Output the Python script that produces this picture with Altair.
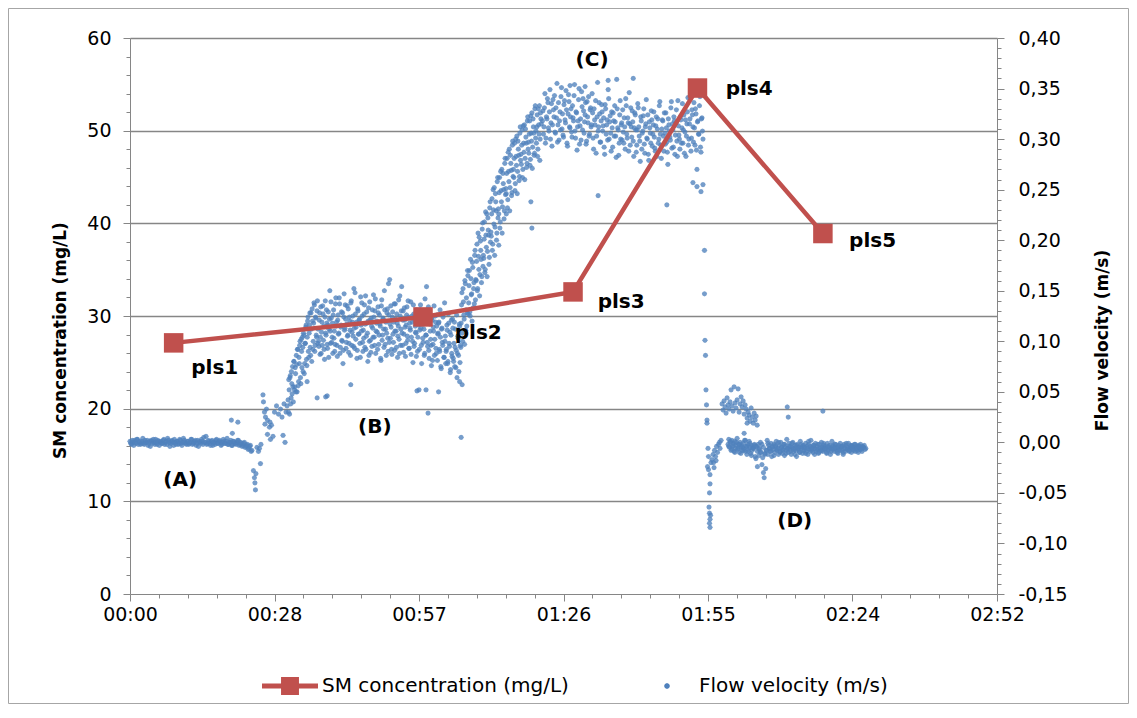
import altair as alt
import pandas as pd

SM_LABEL = "SM concentration (mg/L)"
FLOW_LABEL = "Flow velocity (m/s)"
RED = "#C0504D"
BLUE = "#4F81BD"
GRID = "#868686"
FONT = "DejaVu Sans"

# ---------------- SM concentration samples (time in minutes, mg/L) ----------------
sm_time = [8.7, 58.4, 88.3, 113.1, 138.1]
sm_conc = [27.1, 29.9, 32.6, 54.6, 38.9]
sm_names = ["pls1", "pls2", "pls3", "pls4", "pls5"]
sm_label_time = [16.9, 69.4, 97.9, 123.4, 148.0]
sm_label_conc = [24.4, 28.2, 31.5, 54.5, 38.1]

phase_names = ["(A)", "(B)", "(C)", "(D)"]
phase_time = [10.0, 48.8, 92.1, 132.5]
phase_conc = [12.3, 18.0, 57.6, 7.9]

# ---------------- Flow velocity logger (mm/s), regular logging intervals ----------------
flow_A_start, flow_A_step = 0.0, 0.3
flow_A = [1, -2, 0, 2, -1, 3, 0, -2, 1, -1,
          2, 0, -3, 1, 2, -1, 0, 3, -2, 1,
          0, -1, 2, -2, 1, 4, 0, -1, 2, -3,
          0, 1, -2, 3, -1, 0, 2, -1, 1, -2,
          0, 3, -1, 1, -3, 2, 0, -1, 1, 5,
          0, -2, 2, -1, 1, -3, 0, 2, -1, 1,
          0, -2, 3, -1, 1, -2, 0, 2, -3, 1,
          -1, 0, 2, -2, -1, -3, 0, -4, -2, -6,
          -3, -8]
flow_A2_start, flow_A2_step = 0.15, 0.3
flow_A2 = [-1, 2, -3, 0, 3, -2, 1, -1, 4, -2,
           0, 2, -1, -4, 1, 3, -2, 0, 2, -3,
           1, -1, 3, 0, -2, 2, -4, 1, 0, 3,
           -2, 1, -1, 2, -3, 4, 0, -2, 1, -1,
           3, -2, 0, 2, -1, -4, 1, 3, -2, 0,
           6, -1, 1, -3, 2, 0, -2, 3, -1, 2,
           -3, 0, 1, -1, 4, -2, 0, -3, 1, -1,
           -2, 2, -3, 0, -4, -1, -5, -3, -7, -4,
           -9]

flow_B_start, flow_B_step = 31.5, 0.15
flow_B = [42, 62, 28, 66, 44, 58, 75, 40, 80, 55,
          68, 86, 50, 92, 60, 78, 100, 58, 90, 104,
          70, 106, 78, 98, 116, 76, 120, 90, 108, 128,
          86, 112, 132, 92, 118, 136, 96, 123, 104, 140,
          112, 95, 128, 104, 88, 119, 135, 101, 92, 124,
          108, 131, 97, 116, 84, 122, 110, 139, 99, 118,
          126, 103, 90, 137, 115, 96, 121, 107, 143, 88,
          114, 129, 100, 78, 124, 111, 136, 93, 117, 105,
          132, 98, 120, 86, 140, 109, 125, 95, 113, 148,
          102, 119, 91, 130, 107, 122, 84, 116, 138, 99,
          111, 127, 94, 145, 105, 118, 80, 133, 100, 121,
          89, 115, 131, 104, 124, 96, 142, 110, 120, 92,
          128, 106, 117, 83, 135, 101, 123, 112, 150, 97,
          119, 108, 132, 90, 126, 161, 103, 114, 87, 129,
          99, 137, 110, 122, 94, 118, 105, 141, 88, 125,
          112, 154, 96, 130, 107, 121, 85, 116, 134, 101,
          124, 93, 113, 139, 104, 119, 79, 127, 98, 115,
          108, 131, 90, 121, 52, 111, 136, 96, 125, 103,
          117, 86, 142, 106, 154, 99, 120, 91, 128, 110,
          96, 123, 81, 114, 135, 102, 119, 88, 126, 107,
          118, 92, 131, 75, 112, 99, 124, 84, 138, 105,
          90, 116, 78, 127, 98, 109, 72, 121, 85, 113,
          80, 119, 94, 74, 126, 88, 103, 70, 115, 96]
flow_B2_start, flow_B2_step = 31.575, 0.15
flow_B2 = [30, 52, 64, 38, 70, 48, 55, 80, 52, 74,
           50, 77, 92, 56, 84, 96, 64, 102, 74, 94,
           108, 68, 98, 114, 82, 104, 124, 84, 116, 94,
           128, 80, 120, 100, 138, 90, 124, 106, 130, 98,
           100, 121, 87, 134, 109, 96, 127, 115, 82, 140,
           106, 118, 93, 129, 112, 150, 98, 123, 104, 88,
           131, 110, 97, 143, 119, 85, 126, 108, 137, 94,
           116, 101, 128, 91, 147, 113, 122, 99, 135, 106,
           89, 124, 111, 138, 96, 119, 105, 152, 93, 127,
           114, 83, 132, 107, 121, 98, 144, 110, 125, 90,
           103, 136, 117, 92, 129, 108, 120, 86, 139, 101,
           123, 95, 113, 146, 104, 130, 88, 118, 109, 134,
           97, 126, 115, 81, 141, 106, 122, 94, 131, 112,
           86, 128, 103, 157, 99, 117, 135, 92, 124, 107,
           119, 91, 137, 110, 127, 84, 115, 102, 145, 96,
           130, 108, 121, 89, 133, 114, 98, 126, 105, 140,
           93, 118, 111, 87, 125, 100, 136, 95, 120, 109,
           85, 127, 104, 116, 92, 131, 113, 78, 122, 99,
           112, 88, 128, 106, 119, 95, 134, 83, 117, 102,
           76, 121, 97, 110, 86, 125, 93, 115, 81, 108,
           119, 90, 104, 73, 113, 96, 127, 84, 100, 78,
           92, 111, 80, 118, 95, 69, 106, 88, 122, 83,
           98, 75, 112, 91, 64, 105, 86, 117, 79, 94]

flow_R_start, flow_R_step = 66.0, 0.15
flow_R = [118, 148, 100, 139, 122, 160, 111, 143, 128, 165,
          138, 170, 125, 162, 147, 178, 133, 158, 185, 141,
          160, 196, 152, 184, 203, 166, 190, 158, 211, 174,
          182, 218, 171, 205, 226, 189, 210, 176, 232, 198,
          204, 241, 196, 230, 252, 213, 238, 200, 258, 222,
          226, 262, 218, 249, 270, 233, 256, 221, 276, 245,
          246, 281, 240, 268, 290, 252, 276, 244, 294, 263,
          262, 296, 256, 283, 303, 268, 290, 259, 306, 279,
          275, 309, 270, 296, 314, 281, 302, 272, 318, 290,
          286, 318, 280, 306, 326, 292, 312, 284, 330, 301,
          296, 324, 290, 314, 333, 300, 320]
flow_R2_start, flow_R2_step = 66.075, 0.15
flow_R2 = [136, 108, 152, 126, 97, 157, 131, 115, 170, 127,
           155, 129, 181, 146, 120, 173, 152, 137, 190, 161,
           179, 150, 207, 171, 145, 199, 181, 164, 217, 185,
           201, 168, 228, 193, 164, 222, 205, 183, 238, 208,
           226, 190, 250, 216, 185, 246, 229, 207, 262, 231,
           247, 212, 268, 238, 207, 266, 250, 229, 281, 251,
           266, 232, 287, 258, 229, 284, 269, 247, 298, 270,
           281, 249, 300, 274, 246, 298, 284, 263, 312, 285,
           294, 262, 313, 287, 260, 310, 296, 276, 322, 297,
           305, 274, 323, 298, 271, 320, 306, 286, 333, 308,
           312, 283, 330, 305, 279, 326, 315]

flow_C_start, flow_C_step = 82.2, 0.2
flow_C = [318, 305, 331, 296, 322, 340, 311, 327, 300, 335,
          314, 329, 343, 306, 321, 297, 336, 318, 309, 351,
          325, 302, 338, 316, 329, 293, 344, 312, 322, 307,
          333, 318, 354, 301, 326, 312, 339, 295, 320, 347,
          309, 328, 317, 336, 298, 322, 342, 305, 331, 314,
          326, 290, 319, 338, 303, 356, 312, 325, 297, 334,
          308, 321, 285, 330, 314, 299, 340, 317, 306, 327,
          292, 318, 333, 303, 359, 311, 284, 324, 300, 316,
          329, 296, 312, 340, 305, 321, 288, 315, 331, 302,
          317, 283, 326, 309, 294, 335, 312, 298, 322, 290,
          308, 330, 286, 315, 301, 324, 279, 311, 296, 319,
          305, 327, 291, 313, 283, 320, 300, 337, 294, 310,
          318, 288, 306, 326, 297, 275, 314, 302, 331, 291,
          309, 322, 285, 316, 298, 338, 304, 290, 319, 311,
          296, 324, 307, 283, 315, 341, 300, 320, 288, 329,
          312, 336, 294, 325, 270, 318, 305, 342, 287, 321,
          300]
flow_C2_start, flow_C2_step = 82.3, 0.2
flow_C2 = [328, 312, 345, 301, 320, 336, 308, 349, 316, 293,
           339, 322, 307, 331, 355, 314, 299, 327, 342, 310,
           304, 334, 319, 348, 296, 325, 337, 311, 330, 302,
           321, 343, 308, 327, 289, 318, 350, 313, 299, 332,
           340, 306, 324, 295, 337, 316, 303, 329, 312, 345,
           301, 330, 314, 286, 322, 308, 336, 297, 318, 327,
           313, 292, 334, 305, 319, 349, 300, 323, 288, 311,
           326, 303, 317, 282, 330, 309, 296, 338, 314, 299,
           307, 321, 290, 333, 301, 316, 346, 294, 312, 328,
           298, 311, 324, 287, 309, 331, 303, 278, 318, 306,
           323, 295, 312, 339, 300, 285, 317, 306, 328, 293,
           314, 302, 288, 322, 310, 296, 333, 305, 281, 319,
           303, 326, 295, 311, 287, 320, 308, 299, 337, 315,
           292, 318, 304, 329, 283, 313, 300, 322, 296, 335,
           309, 286, 319, 303, 327, 294, 315, 340, 301, 324,
           297, 311, 330, 289, 317, 305, 333, 292, 320, 308]

flow_E_start, flow_E_step = 118.0, 0.2
flow_E = [38, 32, 41, 35, 29, 44, 37, 33, 40, 52,
          36, 31, 55, 39, 34, 42, 53, 30, 38, 45,
          35, 41, 28, 37, 33, 24, 30, 27, 21, 34,
          25, 19, 29, 22, 26, 17]

flow_D_start, flow_D_step = 119.2, 0.15
flow_D = [-2, 3, -5, 0, -8, 2, -4, -1, -9, 1,
          -6, -3, 4, -7, -2, -10, 0, -5, -3, -8,
          -1, -6, 2, -9, -4, -12, -2, -7, 1, -5,
          -11, -3, -8, -5, -6, -2, -14, -4, -4, -9,
          -2, -13, -6, 0, -10, -22, -15, -30, -35, -11,
          -26, -8, 2, -12, -3, -6, -9, -1, -14, -5,
          -7, -2, -10, -4, 1, -8, -6, -12, -3, -9,
          0, -5, -11, -7, -2, -13, -4, -8, 3, -6,
          -10, -1, -7, -4, -12, -5, 0, -9, -6, -3,
          -8, -14, -2, -7, -5, -10, 1, -6, -4, -11,
          -3, -8, -5, -1, -9, -6, -12, -2, -7, -4,
          2, -8, -5, -10, -3, -6, -1, -9, -4, -7,
          -11, -2, -6, -8, 0, -5, -9, -3, -7, -4,
          -6, -10, -1, -8, -5, -3, -12, -6, 1, -7,
          -4, -9, -2, -6, -8, -5, -11, -3, -7, -1,
          -5, -8, -4, -10, -2, -6, -9, -3, -7, -5,
          -1, -8, -6, -4, -10, -3, -7, -5, -2, -9,
          -6, -4, -8, -3, -5, -7, -2, -6, -9, -4,
          -5, -3, -7, -6]
flow_D2_start, flow_D2_step = 119.35, 0.3
flow_D2 = [-4, 1, -7, -3, -10, 0, -6, -2, -11, -5,
           -8, 2, -4, -9, -1, -13, -6, -3, -16, -24,
           -7, -10, -2, -5, -12, -8, -1, -6, -9, -4,
           -13, -3, -7, 0, -10, -5, -8, -2, -11, -6,
           -4, -9, -1, -7, -12, -3, -6, -10, -2, -8,
           -5, -11, -4, 1, -9, -6, -3, -12, -7, -2,
           -10, -5, -8, -1, -6, -11, -4, -7, -9, -3,
           -6, -2, -10, -5, -8, -4, -12, -6, -1, -7,
           -9, -3, -5, -8, -2, -6, -10, -4, -7, -5]

# isolated readings (transitions, drop and outliers): minutes, mm/s
flow_x_time = [20.2, 21.5, 20.4,
               24.6, 24.8, 24.9, 25.0, 25.1, 25.3, 25.6, 25.8, 26.0, 26.1,
               26.5, 26.6, 26.8, 27.0, 27.2, 26.9, 27.4, 27.8, 27.4, 28.0, 28.5, 30.5, 30.9,
               28.8, 29.2, 29.6, 30.0, 30.3, 30.7, 31.1, 31.3, 28.2, 27.9,
               39.0, 39.3, 44.0, 57.2, 59.0, 61.5, 59.4, 66.0, 65.7, 66.2, 35.3, 37.3,
               80.1, 79.9, 73.5, 75.0, 93.3, 107.0, 95.3, 100.3, 87.7, 90.7,
               112.2, 113.0, 113.8, 114.2,
               114.5, 114.5, 114.6, 114.7, 114.8, 114.9, 115.0, 115.0, 115.2, 115.1,
               115.3, 115.3, 115.6, 115.6, 115.5, 115.4, 115.5, 115.6, 115.5, 115.6, 115.7,
               115.8, 116.0, 116.2, 116.3, 116.5, 116.7, 116.9, 117.1, 117.3, 117.5,
               117.6, 117.8, 116.4, 116.8,
               131.0, 131.2, 138.1, 122.4, 123.0]
flow_x_vel = [22, 20, 9,
              -28, -35, -40, -47, -31, -5, -9, -6, -21, -2,
              47, 40, 30, 25, 33, 18, 22, 15, 8, 3, 6, 7, 0,
              30, 36, 28, 33, 25, 38, 30, 36, 17, 20,
              45, 46, 57, 51, 52, 50, 29, 5, 60, 57, 60, 44,
              212, 238, 195, 226, 244, 235, 358, 360, 353, 352,
              257, 253, 248, 255,
              190, 147, 101, 86, 52, 37, 22, 19, -6, -24,
              -14, -27, -32, -41, -50, -64, -70, -76, -80, -84, -72,
              -20, -17, -12, -20, -8, -14, -4, -10, -2, 0,
              -6, 2, -25, -18,
              35, 25, 31, 9, 19]


def logged_times(start, step, values):
    return [round(start + i * step, 3) for i in range(len(values))]


segments = [
    (flow_A_start, flow_A_step, flow_A), (flow_A2_start, flow_A2_step, flow_A2),
    (flow_B_start, flow_B_step, flow_B), (flow_B2_start, flow_B2_step, flow_B2),
    (flow_R_start, flow_R_step, flow_R), (flow_R2_start, flow_R2_step, flow_R2),
    (flow_C_start, flow_C_step, flow_C), (flow_C2_start, flow_C2_step, flow_C2),
    (flow_E_start, flow_E_step, flow_E),
    (flow_D_start, flow_D_step, flow_D), (flow_D2_start, flow_D2_step, flow_D2),
]
flow_time, flow_mms = [], []
for start, step, vals in segments:
    flow_time += logged_times(start, step, vals)
    flow_mms += vals
flow_time += flow_x_time
flow_mms += flow_x_vel
flow_df = pd.DataFrame({"t": flow_time, "v": [m / 1000 for m in flow_mms], "series": FLOW_LABEL})

sm_df = pd.DataFrame({"t": sm_time, "c": sm_conc, "name": sm_names})
sm_lab_df = pd.DataFrame({"t": sm_label_time, "c": sm_label_conc, "name": sm_names})
phase_df = pd.DataFrame({"t": phase_time, "c": phase_conc, "name": phase_names})

# ---------------- axes ----------------
x_ticks = [round(i * 5.76, 2) for i in range(31)]
ysm_ticks = list(range(0, 61, 2))
yflow_ticks = [round(-0.15 + i * 0.01, 2) for i in range(56)]

x_major = "round(datum.value / 5.76) % 5 == 0"
x_axis = alt.Axis(
    values=x_ticks, title=None, grid=False,
    labelExpr=f"{x_major} ? format(floor(datum.value / 60), '02d') + ':' + format(floor(datum.value % 60 + 0.001), '02d') : ''",
    tickSize={"condition": {"test": x_major, "value": 7}, "value": 4},
    domainColor=GRID, tickColor=GRID, labelFont=FONT, labelFontSize=19,
    labelColor="#000000", labelPadding=4, labelOverlap=False, labelFlush=False,
)
x_enc = alt.X("t:Q", scale=alt.Scale(domain=[0, 172.8], nice=False, zero=False), axis=x_axis)

left_major = "datum.value % 10 == 0"
left_axis = alt.Axis(
    orient="left", values=ysm_ticks,
    labelExpr=f"{left_major} ? datum.value : ''",
    tickSize={"condition": {"test": left_major, "value": 7}, "value": 4},
    grid=True, gridColor=GRID, gridWidth=1.4,
    gridOpacity={"condition": {"test": "datum.value % 10 == 0 && datum.value > 0", "value": 1}, "value": 0},
    domainColor=GRID, tickColor=GRID, labelFont=FONT, labelFontSize=19, labelColor="#000000",
    labelPadding=12, labelOverlap=False, labelFlush=False,
    title=SM_LABEL, titleFont=FONT, titleFontWeight="bold", titleFontSize=17, titleColor="#000000",
    titlePadding=17, titleY=302,
)
ysm_scale = alt.Scale(domain=[0, 60], nice=False, zero=False)

right_major = "abs(round(datum.value * 100)) % 5 == 0"
right_axis = alt.Axis(
    orient="right", values=yflow_ticks,
    labelExpr=f"{right_major} ? (datum.value < -0.001 ? '-' : '') + replace(format(abs(datum.value), '.2f'), '.', ',') : ''",
    tickSize={"condition": {"test": right_major, "value": 7}, "value": 4},
    grid=False, domainColor=GRID, tickColor=GRID, labelFont=FONT, labelFontSize=19,
    labelColor="#000000", labelPadding=14, labelOverlap=False, labelFlush=False,
    title=FLOW_LABEL, titleFont=FONT, titleFontWeight="bold", titleFontSize=17, titleColor="#000000",
    titlePadding=44, titleAngle=270, titleY=302,
)

# ---------------- legend (line+square for SM, small dot for flow) ----------------
sm_symbol = "M-1,-0.09H1V0.09H-1Z M-0.32,-0.32H0.32V0.32H-0.32Z"
dot_symbol = "M0.105,0L0.074,0.074L0,0.105L-0.074,0.074L-0.105,0L-0.074,-0.074L0,-0.105L0.074,-0.074Z"
legend = alt.Legend(
    title=None, orient="none", legendX=132, legendY=620, direction="horizontal",
    labelFont=FONT, labelFontSize=20, labelColor="#000000", labelLimit=400,
    symbolSize=3136, symbolStrokeWidth=0, symbolOpacity=1, labelOffset=4, columnPadding=70,
)

flow_layer = alt.Chart(flow_df).mark_point(filled=True, size=2500, opacity=0.78).encode(
    x=x_enc,
    y=alt.Y("v:Q", scale=alt.Scale(domain=[-0.15, 0.40], nice=False, zero=False), axis=right_axis),
    color=alt.Color("series:N", scale=alt.Scale(domain=[SM_LABEL, FLOW_LABEL], range=[RED, BLUE]), legend=legend),
    shape=alt.Shape("series:N", scale=alt.Scale(domain=[SM_LABEL, FLOW_LABEL], range=[sm_symbol, dot_symbol]), legend=legend),
)

sm_line = alt.Chart(sm_df).mark_line(color=RED, strokeWidth=4.5).encode(
    x=x_enc, y=alt.Y("c:Q", scale=ysm_scale, axis=left_axis)
)
sm_squares = alt.Chart(sm_df).mark_square(color=RED, size=380, opacity=1).encode(
    x=x_enc, y=alt.Y("c:Q", scale=ysm_scale, axis=left_axis)
)
sm_labels = alt.Chart(sm_lab_df).mark_text(
    font=FONT, fontWeight="bold", fontSize=20, color="#000000", align="center", baseline="middle"
).encode(x=x_enc, y=alt.Y("c:Q", scale=ysm_scale, axis=left_axis), text="name:N")
phase_labels = alt.Chart(phase_df).mark_text(
    font=FONT, fontWeight="bold", fontSize=20, color="#000000", align="center", baseline="middle"
).encode(x=x_enc, y=alt.Y("c:Q", scale=ysm_scale, axis=left_axis), text="name:N")

sm_group = alt.layer(sm_line, sm_squares, sm_labels, phase_labels)

frame = alt.Chart(pd.DataFrame({"f": [0]})).mark_rect(filled=False, stroke="#a6a6a6", strokeWidth=1).encode(
    x=alt.value(-121.5), x2=alt.value(998.5), y=alt.value(-29.5), y2=alt.value(665.5)
)

chart = alt.layer(flow_layer, sm_group, frame).resolve_scale(y="independent").properties(
    width=867, height=556,
    autosize=alt.AutoSizeParams(type="none"),
    padding={"left": 122, "top": 30, "right": 132, "bottom": 110},
    background="#ffffff",
).configure_view(strokeWidth=0)

chart.save("out.html", embed_options={"renderer": "svg", "actions": False})
